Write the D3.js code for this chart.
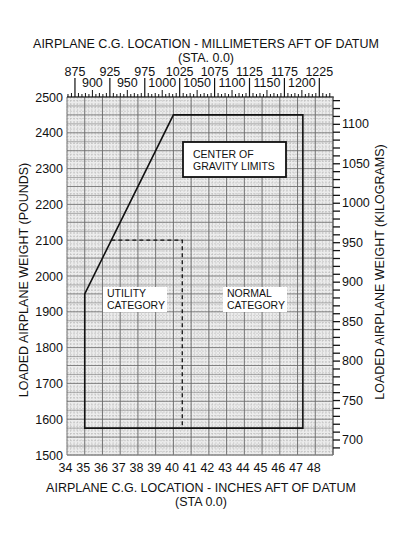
<!DOCTYPE html>
<html>
<head>
<meta charset="utf-8">
<script src="https://cdn.jsdelivr.net/npm/d3@7"></script>
<style>
  body { margin: 0; background: #fff; }
  svg { display: block; }
  text { font-family: Arial, "Liberation Sans", Helvetica, sans-serif; fill: #111; }
</style>
</head>
<body>
<div id="container"></div>
<script>
// tick labels
const inchTicks = [34, 35, 36, 37, 38, 39, 40, 41, 42, 43, 44, 45, 46, 47, 48];
const mmTopRow = [875, 925, 975, 1025, 1075, 1125, 1175, 1225];
const mmLowRow = [900, 950, 1000, 1050, 1100, 1150, 1200];
const lbTicks = [1500, 1600, 1700, 1800, 1900, 2000, 2100, 2200, 2300, 2400, 2500];
const kgTicks = [700, 750, 800, 850, 900, 950, 1000, 1050, 1100];

// envelope corners (inches aft, pounds)
const normalCg = [35, 35, 40, 47.3, 47.3];
const normalWt = [1575, 1950, 2450, 2450, 1575];
const utilityCg = [36.5, 40.5, 40.5];
const utilityWt = [2100, 2100, 1575];

const W = 402, H = 535;
const mLeft = 67, mRight = 333, mTop = 97, mBottom = 455;
const LB_TO_KG = 0.45359237;

const svg = d3.select('#container').append('svg')
  .attr('width', W).attr('height', H);

const x = d3.scaleLinear().domain([34, 49]).range([mLeft, mRight]);
const xmm = d3.scaleLinear().domain([34 * 25.4, 49 * 25.4]).range([mLeft, mRight]);
const y = d3.scaleLinear().domain([1500, 2500]).range([mBottom, mTop]);
const ykg = d3.scaleLinear().domain([1500 * LB_TO_KG, 2500 * LB_TO_KG]).range([mBottom, mTop]);

// graph paper background
svg.append('rect')
  .attr('x', mLeft).attr('y', mTop)
  .attr('width', mRight - mLeft).attr('height', mBottom - mTop)
  .attr('fill', '#ececec');

const grid = svg.append('g');

// fine vertical lines every 0.2 in
grid.selectAll('.vminor')
  .data(d3.range(34, 49.01, 0.2))
  .enter().append('line')
  .attr('x1', d => x(d)).attr('x2', d => x(d))
  .attr('y1', mTop).attr('y2', mBottom)
  .attr('stroke', '#b8b8b8').attr('stroke-width', 0.5)
  .attr('stroke-dasharray', '2,1');

// fine horizontal lines every 10 lb
grid.selectAll('.hminor')
  .data(d3.range(1500, 2501, 10))
  .enter().append('line')
  .attr('x1', mLeft).attr('x2', mRight)
  .attr('y1', d => y(d)).attr('y2', d => y(d))
  .attr('stroke', '#b0b0b0').attr('stroke-width', 0.5)
  .attr('stroke-dasharray', '2,1');

// darker horizontal every 25 lb
grid.selectAll('.hmajor')
  .data(d3.range(1500, 2501, 25))
  .enter().append('line')
  .attr('x1', mLeft).attr('x2', mRight)
  .attr('y1', d => y(d)).attr('y2', d => y(d))
  .attr('stroke', '#777').attr('stroke-width', d => d % 50 === 0 ? 0.9 : 0.6);

// darker vertical every inch
grid.selectAll('.vmajor')
  .data(d3.range(34, 49.01, 1))
  .enter().append('line')
  .attr('x1', d => x(d)).attr('x2', d => x(d))
  .attr('y1', mTop).attr('y2', mBottom)
  .attr('stroke', '#6a6a6a').attr('stroke-width', 0.9);

// frame edges
svg.append('line')
  .attr('x1', mLeft).attr('x2', mRight + 1).attr('y1', mTop).attr('y2', mTop)
  .attr('stroke', '#222').attr('stroke-width', 1.2);
svg.append('line')
  .attr('x1', mRight).attr('x2', mRight).attr('y1', mTop).attr('y2', mBottom)
  .attr('stroke', '#555').attr('stroke-width', 1);
svg.append('line')
  .attr('x1', mLeft).attr('x2', mRight).attr('y1', mBottom).attr('y2', mBottom)
  .attr('stroke', '#888').attr('stroke-width', 1);

// bottom axis (inches)
const xAxis = svg.append('g')
  .attr('transform', `translate(0,${mBottom})`)
  .call(d3.axisBottom(x).tickValues(inchTicks).tickSize(0).tickPadding(8));
xAxis.select('.domain').remove();
xAxis.selectAll('text').style('font-size', '12.5px').attr('dx', -2);

// left axis (pounds)
const yAxis = svg.append('g')
  .attr('transform', `translate(${mLeft},0)`)
  .call(d3.axisLeft(y).tickValues(lbTicks).tickSize(0).tickPadding(4)
    .tickFormat(d3.format('d')));
yAxis.select('.domain').remove();
yAxis.selectAll('text').style('font-size', '12.5px');

// right axis (kilograms)
const kgAxis = svg.append('g')
  .attr('transform', `translate(${mRight},0)`)
  .call(d3.axisRight(ykg)
    .tickValues(d3.range(690, 1131, 10))
    .tickSize(7).tickPadding(2)
    .tickFormat(d => kgTicks.includes(d) ? d : ''));
kgAxis.select('.domain').remove();
kgAxis.selectAll('line').attr('stroke', '#111').attr('stroke-width', 1.3);
kgAxis.selectAll('text').style('font-size', '12.5px');

// top axis (millimetres)
const mmMinor = d3.range(865, 1245, 5);
svg.append('g').selectAll('line')
  .data(mmMinor)
  .enter().append('line')
  .attr('x1', d => xmm(d)).attr('x2', d => xmm(d))
  .attr('y1', mTop)
  .attr('y2', d => {
    if (mmTopRow.includes(d)) return 78;
    if (mmLowRow.includes(d)) return mTop - 7;
    if (d % 10 === 0) return mTop - 4;
    return mTop - 3;
  })
  .attr('stroke', '#111')
  .attr('stroke-width', d => (mmTopRow.includes(d) ? 1.2 : 1));

svg.append('g').selectAll('text')
  .data(mmTopRow)
  .enter().append('text')
  .attr('x', d => xmm(d)).attr('y', 76)
  .attr('text-anchor', 'middle')
  .style('font-size', '12.5px')
  .text(d => d);

svg.append('g').selectAll('text')
  .data(mmLowRow)
  .enter().append('text')
  .attr('x', d => xmm(d)).attr('y', 87)
  .attr('text-anchor', 'middle')
  .style('font-size', '12.5px')
  .text(d => d);

// envelopes
const line = d3.line().x(d => x(d[0])).y(d => y(d[1]));

svg.append('path')
  .datum(d3.zip(normalCg, normalWt))
  .attr('d', d => line(d) + 'Z')
  .attr('fill', 'none')
  .attr('stroke', '#111').attr('stroke-width', 1.6);

svg.append('path')
  .datum(d3.zip(utilityCg, utilityWt))
  .attr('d', line)
  .attr('fill', 'none')
  .attr('stroke', '#111').attr('stroke-width', 1.3)
  .attr('stroke-dasharray', '4,3');

// labels with white backing
function label(x0, y0, w, h, lines, tx, boxed) {
  svg.append('rect')
    .attr('x', x0).attr('y', y0).attr('width', w).attr('height', h)
    .attr('fill', '#fff')
    .attr('stroke', boxed ? '#111' : 'none')
    .attr('stroke-width', 1.8);
  lines.forEach((t, i) => {
    svg.append('text')
      .attr('x', tx).attr('y', y0 + (boxed ? 16 : 10) + i * 11.5)
      .style('font-size', '10.5px')
      .text(t);
  });
}

label(183, 142, 103, 35, ['CENTER OF', 'GRAVITY LIMITS'], 193, true);
label(103, 287, 64, 25, ['UTILITY', 'CATEGORY'], 107, false);
label(223, 287, 64, 25, ['NORMAL', 'CATEGORY'], 227, false);

// titles
svg.append('text')
  .attr('x', 206).attr('y', 48)
  .attr('text-anchor', 'middle')
  .style('font-size', '12.5px')
  .text('AIRPLANE C.G. LOCATION - MILLIMETERS AFT OF DATUM');
svg.append('text')
  .attr('x', 206).attr('y', 62)
  .attr('text-anchor', 'middle')
  .style('font-size', '12.5px')
  .text('(STA. 0.0)');

svg.append('text')
  .attr('x', 201).attr('y', 492)
  .attr('text-anchor', 'middle')
  .style('font-size', '12.5px')
  .text('AIRPLANE C.G. LOCATION - INCHES AFT OF DATUM');
svg.append('text')
  .attr('x', 201).attr('y', 506)
  .attr('text-anchor', 'middle')
  .style('font-size', '12.5px')
  .text('(STA 0.0)');

svg.append('text')
  .attr('transform', 'translate(28,280) rotate(-90)')
  .attr('text-anchor', 'middle')
  .style('font-size', '12.5px')
  .text('LOADED AIRPLANE WEIGHT (POUNDS)');

svg.append('text')
  .attr('transform', 'translate(384,272) rotate(-90)')
  .attr('text-anchor', 'middle')
  .style('font-size', '12.5px')
  .text('LOADED AIRPLANE WEIGHT (KILOGRAMS)');
</script>
</body>
</html>
